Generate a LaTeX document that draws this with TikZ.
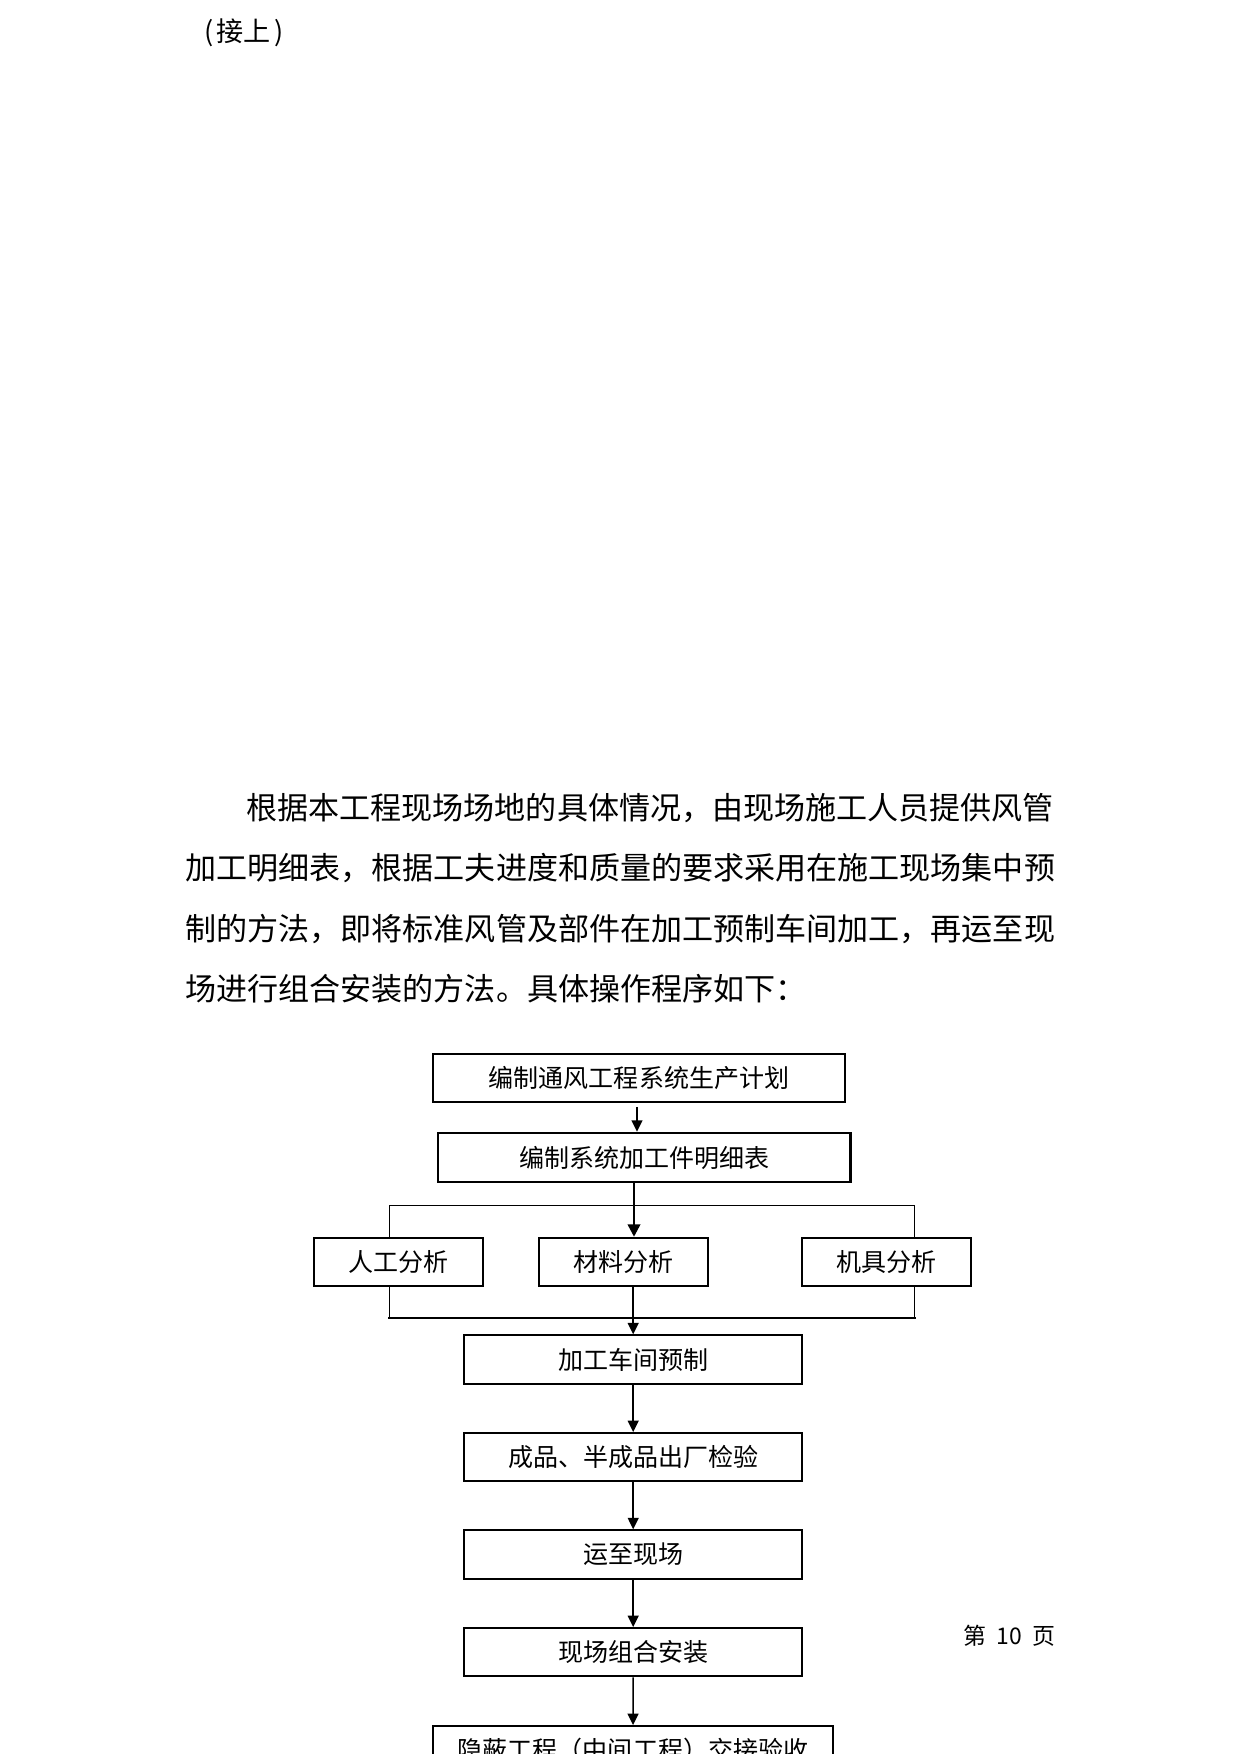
\documentclass[tikz,border=0pt]{standalone}
\usepackage{fontspec}
\setmainfont{Noto Sans CJK SC}
\usetikzlibrary{arrows.meta}
\begin{document}
\begin{tikzpicture}[x=0.4797pt,y=-0.4797pt,
  bx/.style 2 args={draw, line width=0.9pt, inner sep=0pt, minimum width=#1*0.4797pt, minimum height=#2*0.4797pt, font=\fontsize{12}{14}\selectfont},
  bodyline/.style={anchor=west, inner sep=0pt, font=\fontsize{14.9}{18}\selectfont},
  arr/.style={line width=0.75pt, -{Triangle[width=5.2pt,length=5.5pt]}},
  thickarr/.style={line width=1.2pt, -{Triangle[width=6pt,length=6pt]}},
  brk/.style={line width=0.6pt},
  brkthick/.style={line width=1.3pt, line cap=rect}]
\useasboundingbox (0,0) rectangle (1241,1754);
\clip (0,0) rectangle (1241,1754);

\node[bodyline, font=\fontsize{13}{15}\selectfont] (cont) at (204,33) {(\kern1.5pt 接上\kern1.5pt)};

\node[bodyline] (t1) at (246,808) {根据本工程现场场地的具体情况，由现场施工人员提供风管};
\node[bodyline] (t2) at (185,868) {加工明细表，根据工夫进度和质量的要求采用在施工现场集中预};
\node[bodyline] (t3) at (185,929) {制的方法，即将标准风管及部件在加工预制车间加工，再运至现};
\node[bodyline] (t4) at (185,989) {场进行组合安装的方法。具体操作程序如下：};

\node[bx={412.6}{48}] (b1) at (639,1077.7) {编制通风工程系统生产计划};
\node[bx={412.3}{49}, line width=1.2pt] (b2) at (644.2,1157.5) {编制系统加工件明细表};
\node[bx={169}{48.6}] (l) at (398.8,1262) {人工分析};
\node[bx={169}{48.6}] (m) at (623.8,1262) {材料分析};
\node[bx={168.7}{48.6}] (r) at (886.3,1262) {机具分析};
\node[bx={337.7}{48.4}] (p1) at (633.2,1359.5) {加工车间预制};
\node[bx={337.7}{48.3}] (p2) at (633.2,1457.2) {成品、半成品出厂检验};
\node[bx={337.7}{48.3}] (p3) at (633.2,1554.4) {运至现场};
\node[bx={337.7}{48.3}] (p4) at (633.2,1652.2) {现场组合安装};
\node[bx={400.6}{48}] (p5) at (633,1750) {隐蔽工程（中间工程）交接验收};

\node[anchor=east, inner sep=0pt, font=\fontsize{11}{13}\selectfont] (pg) at (1056,1636) {第\hspace{0.45em}10\hspace{0.45em}页};

\coordinate (ax) at (637,0);
\coordinate (sp) at (634,0);
\coordinate (bl) at (389.7,1205.7);
\coordinate (br) at (914.3,1205.7);
\coordinate (bbl) at (389.7,1318);
\coordinate (bbr) at (914.3,1318);

\draw[arr, shorten <=2pt] (b1.south -| ax) -- (b2.north -| ax);
\draw[thickarr] (b2.south -| sp) -- (m.north -| sp);
\draw[brk] (l.north -| bl) -- (bl) -- (br) -- (r.north -| br);
\draw[brk] (l.south -| bbl) -- (bbl);
\draw[brk] (r.south -| bbr) -- (bbr);
\draw[brkthick] (bbl) -- (bbr);
\draw[arr] (m.south -| p1.north) -- (p1.north);
\draw[arr] (p1.south) -- (p2.north);
\draw[arr] (p2.south) -- (p3.north);
\draw[arr] (p3.south) -- (p4.north);
\draw[arr] (p4.south) -- (p5.north);
\end{tikzpicture}
\end{document}
